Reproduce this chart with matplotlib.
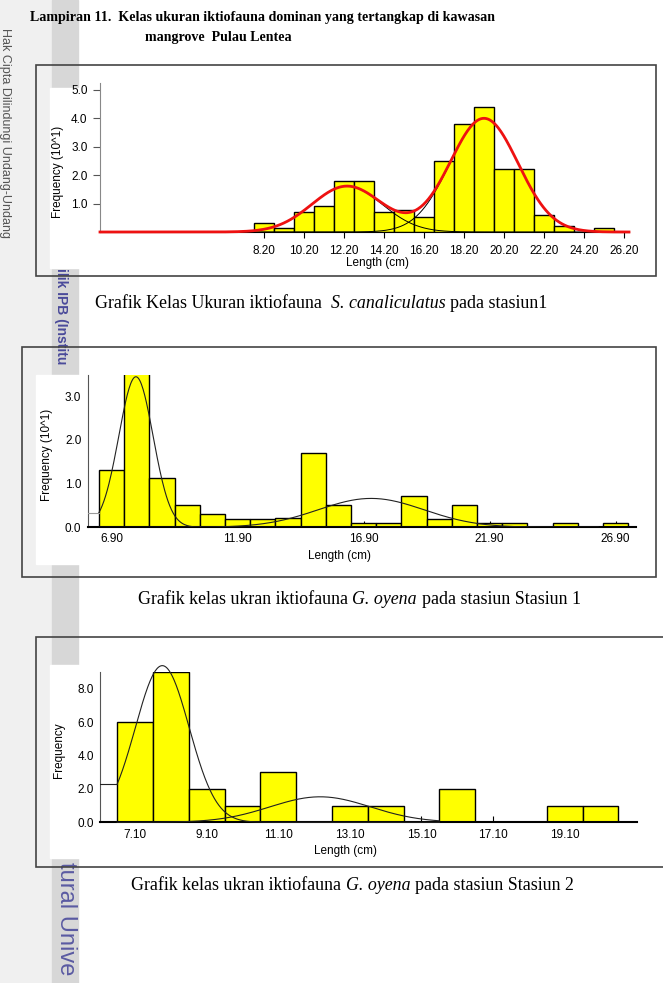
import matplotlib
matplotlib.use("Agg")
import matplotlib.pyplot as plt
import numpy as np
from matplotlib.patches import Rectangle

plt.rcParams['font.family'] = ['Liberation Sans', 'DejaVu Sans']

W, H = 663, 983

# chart 1 : S. canaliculatus, stasiun 1 (frequency x10)
s1_mid = [8.2, 9.2, 10.2, 11.2, 12.2, 13.2, 14.2, 15.2, 16.2, 17.2, 18.2, 19.2,
          20.2, 21.2, 22.2, 23.2, 24.2, 25.2]
s1_freq = [0.33, 0.13, 0.71, 0.91, 1.79, 1.79, 0.71, 0.78, 0.54, 2.48, 3.79, 4.40,
           2.20, 2.20, 0.61, 0.20, 0.0, 0.13]
s1_mu = [12.35, 19.2]
s1_sd = [1.75, 1.7]
s1_amp = [1.61, 3.99]
s1_xticks = [8.2, 10.2, 12.2, 14.2, 16.2, 18.2, 20.2, 22.2, 24.2, 26.2]
s1_yticks = [1.0, 2.0, 3.0, 4.0, 5.0]

# chart 2 : G. oyena, stasiun 1 (frequency x10)
s2_mid = [6.9, 7.9, 8.9, 9.9, 10.9, 11.9, 12.9, 13.9, 14.9, 15.9, 16.9, 17.9,
          18.9, 19.9, 20.9, 21.9, 22.9, 23.9, 24.9, 25.9, 26.9]
s2_freq = [1.31, 3.60, 1.12, 0.52, 0.30, 0.20, 0.20, 0.22, 1.70, 0.52, 0.10, 0.10,
           0.71, 0.20, 0.52, 0.10, 0.10, 0.0, 0.10, 0.0, 0.10]
s2_mu = [7.87, 17.2]
s2_sd = [0.68, 2.1]
s2_amp = [3.44, 0.66]
s2_xticks = [6.9, 11.9, 16.9, 21.9, 26.9]
s2_yticks = [0.0, 1.0, 2.0, 3.0]

# chart 3 : G. oyena, stasiun 2
s3_mid = [7.1, 8.1, 9.1, 10.1, 11.1, 12.1, 13.1, 14.1, 15.1, 16.1, 17.1, 18.1,
          19.1, 20.1]
s3_freq = [6, 9, 2, 1, 3, 0, 1, 1, 0, 2, 0, 0, 1, 1]
s3_mu = [7.86, 12.27]
s3_sd = [0.75, 1.4]
s3_amp = [9.4, 1.53]
s3_xticks = [7.1, 9.1, 11.1, 13.1, 15.1, 17.1, 19.1]
s3_yticks = [0.0, 2.0, 4.0, 6.0, 8.0]


def gauss(x, mu, sd, amp):
    return amp * np.exp(-0.5 * ((x - mu) / sd) ** 2)


def px_axes(left, top, right, bottom):
    return fig.add_axes([left / W, 1 - bottom / H, (right - left) / W, (bottom - top) / H],
                        zorder=2)


fig = plt.figure(figsize=(W / 100, H / 100), dpi=100)
fig.patch.set_facecolor('white')

# page background, watermark strip
bg = fig.add_axes([0, 0, 1, 1], zorder=0)
bg.set_xlim(0, W)
bg.set_ylim(H, 0)
bg.axis('off')
bg.add_patch(Rectangle((0, 0), 52, H, color='#f0f0f0', zorder=0))
bg.add_patch(Rectangle((52, 0), 26, H, color='#d7d7d7', zorder=0))
bg.text(5, 28, "Hak Cipta Dilindungi Undang-Undang", rotation=-90, rotation_mode='anchor',
        ha='left', va='center', fontsize=9, color='#555555', zorder=1)
bg.text(61, 268, "ilik IPB (Institu", rotation=-90, rotation_mode='anchor',
        ha='left', va='center', fontsize=10, fontweight='bold', color='#4a4a9a', zorder=1)
bg.text(66, 862, "tural Unive", rotation=-90, rotation_mode='anchor',
        ha='left', va='center', fontsize=17, color='#5a5aa2', zorder=1)

# frames and white panels
for (x0, y0, x1, y1) in [(36, 65, 656, 276), (22, 347, 656, 577), (36, 637, 664, 867)]:
    bg.add_patch(Rectangle((x0, y0), x1 - x0, y1 - y0, fill=False, ec='#444444', lw=1.2, zorder=3))
for (x0, y0, x1, y1) in [(50, 88, 650, 268), (36, 375, 650, 564), (50, 665, 650, 858)]:
    bg.add_patch(Rectangle((x0, y0), x1 - x0, y1 - y0, color='white', zorder=2))

# title
serif = 'Liberation Serif'
bg.text(30, 18, "Lampiran 11.  Kelas ukuran iktiofauna dominan yang tertangkap di kawasan",
        family=serif, fontweight='bold', fontsize=10.1, ha='left', va='center')
bg.text(145, 38, "mangrove  Pulau Lentea", family=serif, fontweight='bold', fontsize=10.1,
        ha='left', va='center')

# captions with italic species names
renderer = fig.canvas.get_renderer()
cap_fs = 12.9


def space_w(style):
    a = bg.text(0, 0, "x x", family=serif, fontsize=cap_fs, style=style)
    b = bg.text(0, 0, "xx", family=serif, fontsize=cap_fs, style=style)
    w = a.get_window_extent(renderer).width - b.get_window_extent(renderer).width
    a.remove()
    b.remove()
    return w


def caption(x, y, parts):
    for s, style in parts:
        t = bg.text(x, y, s, family=serif, fontsize=cap_fs, style=style, ha='left', va='center')
        x += t.get_window_extent(renderer).width + space_w(style)


caption(95, 303, [("Grafik Kelas Ukuran iktiofauna ", 'normal'), ("S. canaliculatus", 'italic'),
                  ("pada stasiun1", 'normal')])
caption(138, 600, [("Grafik kelas ukran iktiofauna", 'normal'), ("G. oyena", 'italic'),
                   ("pada stasiun Stasiun 1", 'normal')])
caption(131, 885, [("Grafik kelas ukran iktiofauna", 'normal'), ("G. oyena", 'italic'),
                   ("pada stasiun Stasiun 2", 'normal')])

fs = 8.5

# ---- chart 1
ax1 = px_axes(100, 83, 629, 232)
ax1.set_facecolor('none')
ax1.set_xlim(0, 26.45)
ax1.set_ylim(0, 5.23)
ax1.bar(s1_mid, s1_freq, width=1.0, color='#ffff00', edgecolor='black', lw=1.0, zorder=2)
xx = np.linspace(0, 26.45, 600)
comps = [gauss(xx, m, s, a) for m, s, a in zip(s1_mu, s1_sd, s1_amp)]
for c in comps:
    ax1.plot(xx, c, color='black', lw=0.7, zorder=3)
ax1.plot(xx, comps[0] + comps[1], color='#ee1111', lw=2.0, zorder=4, clip_on=False)
ax1.set_xticks(s1_xticks)
ax1.set_xticklabels(['%.2f' % v for v in s1_xticks])
ax1.set_yticks(s1_yticks)
ax1.set_yticklabels(['%.1f' % v for v in s1_yticks])
ax1.tick_params(axis='x', direction='out', length=4, pad=5, labelsize=fs)
ax1.tick_params(axis='y', direction='out', length=5, pad=4, labelsize=fs, color='#555555')
for s in ['top', 'right']:
    ax1.spines[s].set_visible(False)
ax1.spines['left'].set_color('#888888')
ax1.set_xlabel("Length (cm)", fontsize=fs)
ax1.xaxis.label.set_va('center')
ax1.xaxis.set_label_coords(377, 263, transform=bg.transData)
ax1.set_ylabel("Frequency (10^1)", fontsize=fs)
ax1.yaxis.label.set_va('center')
ax1.yaxis.set_label_coords(58, 172, transform=bg.transData)

# ---- chart 2
ax2 = px_axes(88.3, 375, 636, 527.3)
ax2.set_facecolor('none')
x2lo, x2hi = 5.98, 27.71
ax2.set_xlim(x2lo, x2hi)
ax2.set_ylim(0, 3.48)
ax2.bar(s2_mid, s2_freq, width=1.0, color='#ffff00', edgecolor='black', lw=1.0, zorder=2)
start2 = s2_mid[0] - 0.5
xx = np.linspace(start2, x2hi - 1.5, 600)
for m, s, a in zip(s2_mu, s2_sd, s2_amp):
    ax2.plot(xx, gauss(xx, m, s, a), color='#222222', lw=0.8, zorder=3)
y0 = gauss(start2, s2_mu[0], s2_sd[0], s2_amp[0])
ax2.plot([x2lo, start2], [y0, y0], color='#999999', lw=0.8, zorder=3)
ax2.set_xticks(s2_xticks)
ax2.set_xticklabels(['%.2f' % v for v in s2_xticks])
ax2.set_yticks(s2_yticks)
ax2.set_yticklabels(['%.1f' % v for v in s2_yticks])
ax2.tick_params(axis='x', direction='in', length=4, pad=4, labelsize=fs)
ax2.tick_params(axis='y', length=0, pad=5, labelsize=fs)
for s in ['top', 'right']:
    ax2.spines[s].set_visible(False)
ax2.spines['left'].set_color('#555555')
ax2.spines['left'].set_linewidth(0.8)
ax2.spines['bottom'].set_linewidth(1.5)
ax2.set_xlabel("Length (cm)", fontsize=fs)
ax2.xaxis.label.set_va('center')
ax2.xaxis.set_label_coords(339, 556, transform=bg.transData)
ax2.set_ylabel("Frequency (10^1)", fontsize=fs)
ax2.yaxis.label.set_va('center')
ax2.yaxis.set_label_coords(47, 455, transform=bg.transData)

# ---- chart 3
ax3 = px_axes(100, 672.3, 637.3, 822.3)
ax3.set_facecolor('none')
x3lo, x3hi = 6.12, 21.13
ax3.set_xlim(x3lo, x3hi)
ax3.set_ylim(0, 9.0)
ax3.bar(s3_mid, s3_freq, width=1.0, color='#ffff00', edgecolor='black', lw=1.0, zorder=2)
start3 = s3_mid[0] - 0.5
xx = np.linspace(start3, 15.6, 600)
for m, s, a in zip(s3_mu, s3_sd, s3_amp):
    ax3.plot(xx, gauss(xx, m, s, a), color='#222222', lw=0.8, zorder=3, clip_on=False)
y0 = gauss(start3, s3_mu[0], s3_sd[0], s3_amp[0])
ax3.plot([x3lo, start3], [y0, y0], color='#222222', lw=0.8, zorder=3)
ax3.set_xticks(s3_xticks)
ax3.set_xticklabels(['%.2f' % v for v in s3_xticks])
ax3.set_yticks(s3_yticks)
ax3.set_yticklabels(['%.1f' % v for v in s3_yticks])
ax3.tick_params(axis='x', direction='in', length=4, pad=4.5, labelsize=fs)
ax3.tick_params(axis='y', length=0, pad=4.5, labelsize=fs)
for s in ['top', 'right']:
    ax3.spines[s].set_visible(False)
ax3.spines['left'].set_color('#555555')
ax3.spines['left'].set_linewidth(0.8)
ax3.spines['bottom'].set_linewidth(1.5)
ax3.set_xlabel("Length (cm)", fontsize=fs)
ax3.xaxis.label.set_va('center')
ax3.xaxis.set_label_coords(346, 851, transform=bg.transData)
ax3.set_ylabel("Frequency", fontsize=fs)
ax3.yaxis.label.set_va('center')
ax3.yaxis.set_label_coords(59, 750, transform=bg.transData)

fig.savefig("out.png", dpi=100)
